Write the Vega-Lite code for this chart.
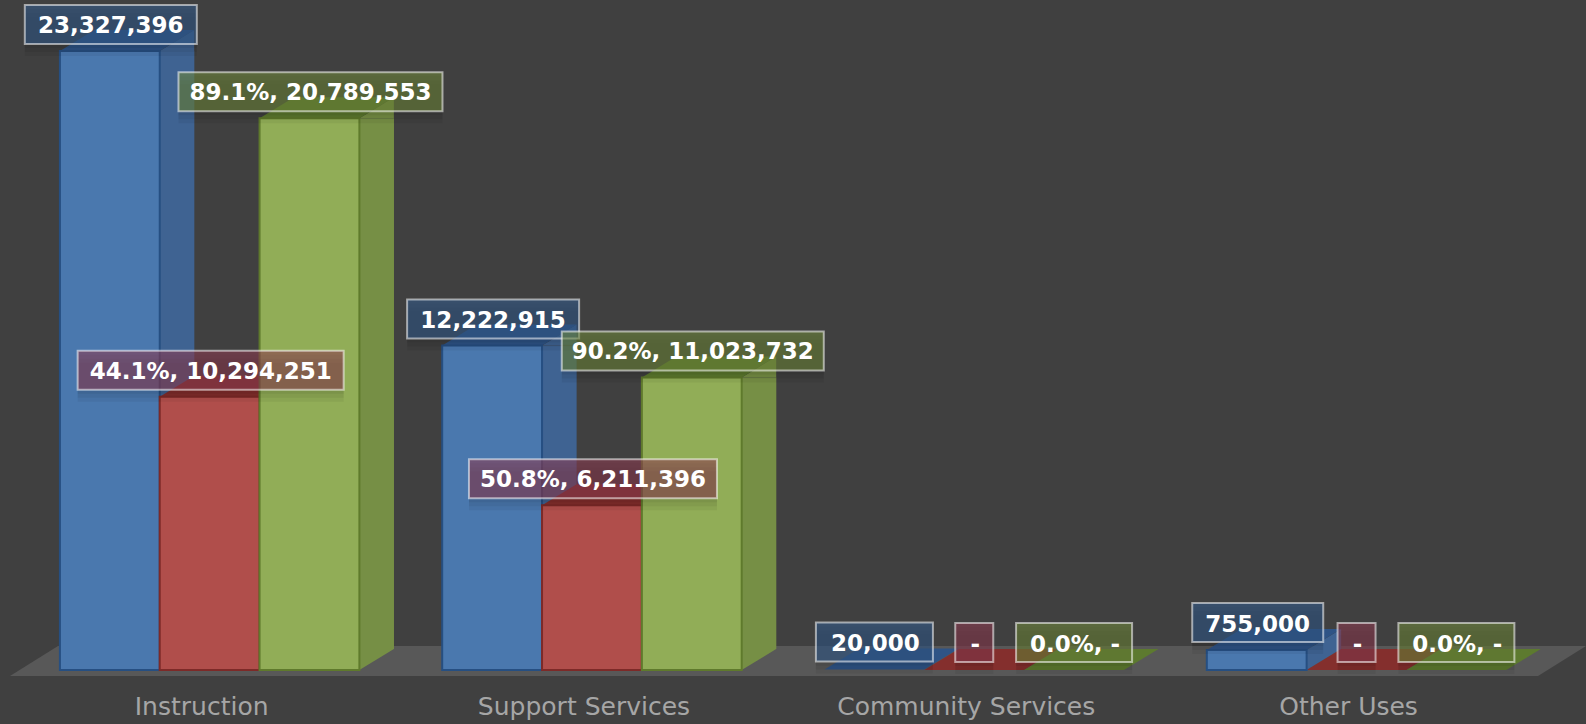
{
  "$schema": "https://vega.github.io/schema/vega-lite/v6.json",
  "width": 1529.2,
  "height": 670,
  "autosize": {"type": "none"},
  "padding": {"left": 18.5, "top": 0, "right": 38.3, "bottom": 54},
  "background": "#404040",
  "config": {"view": {"stroke": null}},
  "data": {
    "values": [
      {"category": "Instruction", "series": "Budget", "value": 23327396, "label": "23,327,396"},
      {"category": "Instruction", "series": "Spent", "value": 10294251, "label": "44.1%, 10,294,251"},
      {"category": "Instruction", "series": "Projected", "value": 20789553, "label": "89.1%, 20,789,553"},
      {"category": "Support Services", "series": "Budget", "value": 12222915, "label": "12,222,915"},
      {"category": "Support Services", "series": "Spent", "value": 6211396, "label": "50.8%, 6,211,396"},
      {"category": "Support Services", "series": "Projected", "value": 11023732, "label": "90.2%, 11,023,732"},
      {"category": "Community Services", "series": "Budget", "value": 20000, "label": "20,000"},
      {"category": "Community Services", "series": "Spent", "value": 0, "label": "-"},
      {"category": "Community Services", "series": "Projected", "value": 0, "label": "0.0%, -"},
      {"category": "Other Uses", "series": "Budget", "value": 755000, "label": "755,000"},
      {"category": "Other Uses", "series": "Spent", "value": 0, "label": "-"},
      {"category": "Other Uses", "series": "Projected", "value": 0, "label": "0.0%, -"}
    ]
  },
  "resolve": {"scale": {"color": "independent", "fill": "independent", "stroke": "independent"}},
  "encoding": {
    "x": {
      "field": "category",
      "type": "nominal",
      "sort": ["Instruction", "Support Services", "Community Services", "Other Uses"],
      "scale": {"paddingInner": 0.2166, "paddingOuter": 0.1083},
      "axis": {
        "title": null,
        "domain": false,
        "ticks": false,
        "labelAngle": 0,
        "labelFont": "DejaVu Sans",
        "labelFontSize": 25,
        "labelColor": "#a6a6a6",
        "labelPadding": 24,
        "labelOffset": -8,
        "labelLimit": 400
      }
    },
    "xOffset": {
      "field": "series",
      "type": "nominal",
      "sort": ["Budget", "Spent", "Projected"],
      "scale": {"paddingInner": 0, "paddingOuter": 0}
    },
    "y": {
      "field": "value",
      "type": "quantitative",
      "scale": {"domain": [0, 25245000], "nice": false, "zero": true},
      "axis": null
    }
  },
  "layer": [
    {
      "description": "Floor slab under the bars, anchored on the first bar's base",
      "transform": [{"filter": "datum.value == 23327396"}],
      "mark": {
        "type": "point",
        "filled": true,
        "size": 10000,
        "opacity": 1,
        "strokeWidth": 0,
        "color": "#585858",
        "shape": "M-1.996 0.12 L28.564 0.12 L29.524 -0.48 L-1.036 -0.48 Z"
      },
      "encoding": {"y": {"datum": 0}}
    },
    {
      "description": "Side face, blue series: straight middle section",
      "transform": [{"filter": "datum.value >= 100000 && datum.series == 'Budget'"}],
      "mark": {"type": "bar", "width": 34.5, "color": "#3f6392"},
      "encoding": {"y2": {"datum": 791259}, "xOffset": {"value": 117.18}}
    },
    {
      "description": "Side face, red series: straight middle section",
      "transform": [{"filter": "datum.value >= 100000 && datum.series == 'Spent'"}],
      "mark": {"type": "bar", "width": 34.5, "color": "#8c3d3a"},
      "encoding": {"y2": {"datum": 791259}, "xOffset": {"value": 217.0}}
    },
    {
      "description": "Side face, green series: straight middle section",
      "transform": [{"filter": "datum.value >= 100000 && datum.series == 'Projected'"}],
      "mark": {"type": "bar", "width": 34.5, "color": "#768f45"},
      "encoding": {"y2": {"datum": 791259}, "xOffset": {"value": 316.84}}
    },
    {
      "description": "Side faces: slanted upper corner",
      "transform": [{"filter": "datum.value >= 100000"}],
      "mark": {"type": "point", "filled": true, "size": 10000, "opacity": 1, "strokeWidth": 0, "shape": "M0.998 0 L1.688 -0.42 L1.688 0 Z"},
      "encoding": {
        "color": {
          "field": "series",
          "scale": {"domain": ["Budget", "Spent", "Projected"], "range": ["#3f6392", "#8c3d3a", "#768f45"]},
          "legend": null
        }
      }
    },
    {
      "description": "Side faces: slanted lower corner",
      "transform": [{"filter": "datum.value >= 100000"}],
      "mark": {"type": "point", "filled": true, "size": 10000, "opacity": 1, "strokeWidth": 0, "shape": "M0.998 0 L1.688 -0.42 L0.998 -0.42 Z"},
      "encoding": {
        "y": {"datum": 0},
        "color": {
          "field": "series",
          "scale": {"domain": ["Budget", "Spent", "Projected"], "range": ["#3f6392", "#8c3d3a", "#768f45"]},
          "legend": null
        }
      }
    },
    {
      "description": "Top faces",
      "mark": {"type": "point", "filled": true, "size": 10000, "opacity": 1, "strokeWidth": 0, "shape": "M-0.998 0 L0.998 0 L1.688 -0.42 L-0.308 -0.42 Z"},
      "encoding": {
        "color": {
          "field": "series",
          "scale": {"domain": ["Budget", "Spent", "Projected"], "range": ["#2f5486", "#842f2d", "#5d7a2f"]},
          "legend": null
        }
      }
    },
    {
      "description": "Front faces",
      "transform": [{"filter": "datum.value >= 100000"}],
      "mark": {"type": "bar", "strokeWidth": 2, "opacity": 1},
      "encoding": {
        "color": {
          "field": "series",
          "scale": {"domain": ["Budget", "Spent", "Projected"], "range": ["#4a78ae", "#b04e4b", "#91ad57"]},
          "legend": null
        },
        "stroke": {
          "field": "series",
          "scale": {"domain": ["Budget", "Spent", "Projected"], "range": ["#264f82", "#7d2a28", "#5f7a2c"]},
          "legend": null
        }
      }
    },
    {
      "description": "Label box drop shadow, inner step",
      "mark": {"type": "point", "filled": true, "size": 10000, "opacity": 0.05, "strokeWidth": 0, "color": "#000000", "xOffset": 3, "yOffset": 4},
      "encoding": {
        "shape": {
          "field": "label",
          "type": "nominal",
          "scale": {
            "domain": ["23,327,396", "12,222,915", "89.1%, 20,789,553", "44.1%, 10,294,251", "90.2%, 11,023,732", "50.8%, 6,211,396", "20,000", "755,000", "-", "0.0%, -"],
            "range": [
              "M-1.70 -0.92 L1.74 -0.92 L1.74 -0.14 L-1.70 -0.14 Z",
              "M-1.70 -0.92 L1.74 -0.92 L1.74 -0.14 L-1.70 -0.14 Z",
              "M-2.62 -0.92 L2.66 -0.92 L2.66 -0.14 L-2.62 -0.14 Z",
              "M-2.64 -0.92 L2.68 -0.92 L2.68 -0.14 L-2.64 -0.14 Z",
              "M-2.60 -0.92 L2.64 -0.92 L2.64 -0.14 L-2.60 -0.14 Z",
              "M-2.46 -0.92 L2.50 -0.92 L2.50 -0.14 L-2.46 -0.14 Z",
              "M-1.17 -0.94 L1.17 -0.94 L1.17 -0.16 L-1.17 -0.16 Z",
              "M-1.29 -0.94 L1.33 -0.94 L1.33 -0.16 L-1.29 -0.16 Z",
              "M-0.38 -0.94 L0.38 -0.94 L0.38 -0.16 L-0.38 -0.16 Z",
              "M-1.16 -0.94 L1.16 -0.94 L1.16 -0.16 L-1.16 -0.16 Z"
            ]
          },
          "legend": null
        }
      }
    },
    {
      "description": "Label box drop shadow, middle step",
      "mark": {"type": "point", "filled": true, "size": 10000, "opacity": 0.05, "strokeWidth": 0, "color": "#000000", "xOffset": 6, "yOffset": 8},
      "encoding": {
        "shape": {
          "field": "label",
          "type": "nominal",
          "scale": {
            "domain": ["23,327,396", "12,222,915", "89.1%, 20,789,553", "44.1%, 10,294,251", "90.2%, 11,023,732", "50.8%, 6,211,396", "20,000", "755,000", "-", "0.0%, -"],
            "range": [
              "M-1.70 -0.92 L1.74 -0.92 L1.74 -0.14 L-1.70 -0.14 Z",
              "M-1.70 -0.92 L1.74 -0.92 L1.74 -0.14 L-1.70 -0.14 Z",
              "M-2.62 -0.92 L2.66 -0.92 L2.66 -0.14 L-2.62 -0.14 Z",
              "M-2.64 -0.92 L2.68 -0.92 L2.68 -0.14 L-2.64 -0.14 Z",
              "M-2.60 -0.92 L2.64 -0.92 L2.64 -0.14 L-2.60 -0.14 Z",
              "M-2.46 -0.92 L2.50 -0.92 L2.50 -0.14 L-2.46 -0.14 Z",
              "M-1.17 -0.94 L1.17 -0.94 L1.17 -0.16 L-1.17 -0.16 Z",
              "M-1.29 -0.94 L1.33 -0.94 L1.33 -0.16 L-1.29 -0.16 Z",
              "M-0.38 -0.94 L0.38 -0.94 L0.38 -0.16 L-0.38 -0.16 Z",
              "M-1.16 -0.94 L1.16 -0.94 L1.16 -0.16 L-1.16 -0.16 Z"
            ]
          },
          "legend": null
        }
      }
    },
    {
      "description": "Label box drop shadow, outer step",
      "mark": {"type": "point", "filled": true, "size": 10000, "opacity": 0.05, "strokeWidth": 0, "color": "#000000", "xOffset": 9, "yOffset": 12},
      "encoding": {
        "shape": {
          "field": "label",
          "type": "nominal",
          "scale": {
            "domain": ["23,327,396", "12,222,915", "89.1%, 20,789,553", "44.1%, 10,294,251", "90.2%, 11,023,732", "50.8%, 6,211,396", "20,000", "755,000", "-", "0.0%, -"],
            "range": [
              "M-1.70 -0.92 L1.74 -0.92 L1.74 -0.14 L-1.70 -0.14 Z",
              "M-1.70 -0.92 L1.74 -0.92 L1.74 -0.14 L-1.70 -0.14 Z",
              "M-2.62 -0.92 L2.66 -0.92 L2.66 -0.14 L-2.62 -0.14 Z",
              "M-2.64 -0.92 L2.68 -0.92 L2.68 -0.14 L-2.64 -0.14 Z",
              "M-2.60 -0.92 L2.64 -0.92 L2.64 -0.14 L-2.60 -0.14 Z",
              "M-2.46 -0.92 L2.50 -0.92 L2.50 -0.14 L-2.46 -0.14 Z",
              "M-1.17 -0.94 L1.17 -0.94 L1.17 -0.16 L-1.17 -0.16 Z",
              "M-1.29 -0.94 L1.33 -0.94 L1.33 -0.16 L-1.29 -0.16 Z",
              "M-0.38 -0.94 L0.38 -0.94 L0.38 -0.16 L-0.38 -0.16 Z",
              "M-1.16 -0.94 L1.16 -0.94 L1.16 -0.16 L-1.16 -0.16 Z"
            ]
          },
          "legend": null
        }
      }
    },
    {
      "description": "Label boxes",
      "mark": {"type": "point", "filled": true, "size": 10000, "strokeWidth": 2, "stroke": "#ffffff", "strokeOpacity": 0.55, "fillOpacity": 0.58, "opacity": 1},
      "encoding": {
        "shape": {
          "field": "label",
          "type": "nominal",
          "scale": {
            "domain": ["23,327,396", "12,222,915", "89.1%, 20,789,553", "44.1%, 10,294,251", "90.2%, 11,023,732", "50.8%, 6,211,396", "20,000", "755,000", "-", "0.0%, -"],
            "range": [
              "M-1.70 -0.92 L1.74 -0.92 L1.74 -0.14 L-1.70 -0.14 Z",
              "M-1.70 -0.92 L1.74 -0.92 L1.74 -0.14 L-1.70 -0.14 Z",
              "M-2.62 -0.92 L2.66 -0.92 L2.66 -0.14 L-2.62 -0.14 Z",
              "M-2.64 -0.92 L2.68 -0.92 L2.68 -0.14 L-2.64 -0.14 Z",
              "M-2.60 -0.92 L2.64 -0.92 L2.64 -0.14 L-2.60 -0.14 Z",
              "M-2.46 -0.92 L2.50 -0.92 L2.50 -0.14 L-2.46 -0.14 Z",
              "M-1.17 -0.94 L1.17 -0.94 L1.17 -0.16 L-1.17 -0.16 Z",
              "M-1.29 -0.94 L1.33 -0.94 L1.33 -0.16 L-1.29 -0.16 Z",
              "M-0.38 -0.94 L0.38 -0.94 L0.38 -0.16 L-0.38 -0.16 Z",
              "M-1.16 -0.94 L1.16 -0.94 L1.16 -0.16 L-1.16 -0.16 Z"
            ]
          },
          "legend": null
        },
        "fill": {
          "field": "series",
          "scale": {"domain": ["Budget", "Spent", "Projected"], "range": ["#32598a", "#8a3a50", "#6c8438"]},
          "legend": null
        }
      }
    },
    {
      "description": "Label text",
      "mark": {"type": "text", "font": "DejaVu Sans", "fontWeight": "bold", "fontSize": 23, "color": "#ffffff", "baseline": "middle", "align": "center", "dy": -25, "dx": 1},
      "encoding": {"text": {"field": "label"}}
    }
  ]
}
